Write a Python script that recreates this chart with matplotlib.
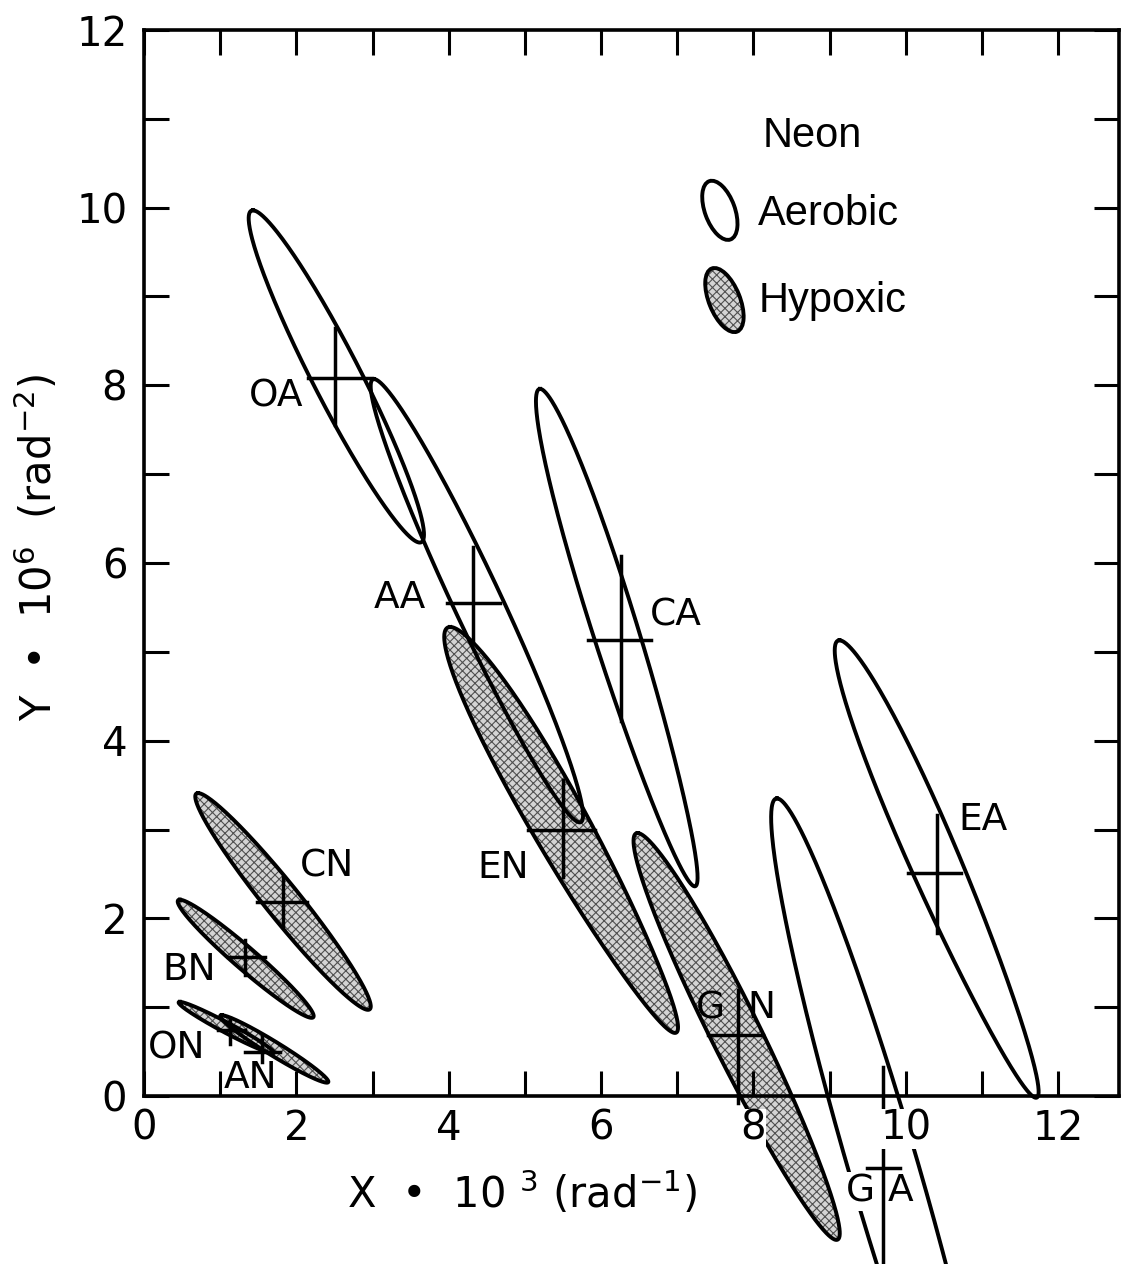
import numpy as np
import matplotlib
matplotlib.use('Agg')
import matplotlib.pyplot as plt
from matplotlib import transforms
from matplotlib.patches import Ellipse

# aerobic regions (top point, bottom point, half width at the middle, skew)
aer_names = ['OA', 'AA', 'CA', 'GA', 'EA']
aer_top_x = [1.43, 3.02, 5.20, 8.31, 9.13]
aer_top_y = [9.97, 8.07, 7.96, 3.35, 5.13]
aer_bot_x = [3.62, 5.72, 7.23, 11.11, 11.71]
aer_bot_y = [6.23, 3.08, 2.36, -4.97, -0.02]
aer_halfw = [0.354, 0.348, 0.308, 0.47, 0.354]
aer_skew = [0.0, 0.0, 0.1, 0.0, 0.15]

# hypoxic regions
hyp_names = ['ON', 'AN', 'BN', 'CN', 'EN', 'GN']
hyp_top_x = [0.47, 1.02, 0.47, 0.71, 4.02, 6.48]
hyp_top_y = [1.06, 0.91, 2.21, 3.41, 5.28, 2.96]
hyp_bot_x = [1.69, 2.40, 2.20, 2.94, 6.97, 9.09]
hyp_bot_y = [0.48, 0.15, 0.88, 0.97, 0.71, -1.62]
hyp_halfw = [0.14, 0.17, 0.22, 0.29, 0.42, 0.36]
hyp_skew = [0.0, 0.0, 0.0, 0.0, 0.17, 0.05]

# best estimates with x / y ranges (the crosses)
est_names = ['OA', 'AA', 'CA', 'EA', 'GA', 'EN', 'GN', 'CN', 'BN', 'ON', 'AN']
est_x = [2.51, 4.32, 6.26, 10.41, 9.70, 5.50, 7.80, 1.82, 1.33, 1.13, 1.55]
est_y = [8.08, 5.55, 5.13, 2.51, -0.81, 2.99, 0.69, 2.18, 1.56, 0.74, 0.50]
est_xlo = [2.15, 3.98, 5.83, 10.03, 9.49, 5.04, 7.40, 1.48, 1.10, 0.97, 1.33]
est_xhi = [2.99, 4.67, 6.65, 10.73, 9.92, 5.92, 8.12, 2.14, 1.59, 1.33, 1.78]
est_ylo = [7.55, 5.10, 4.22, 1.83, -2.2, 2.47, -0.08, 1.90, 1.36, 0.58, 0.38]
est_yhi = [8.65, 6.18, 6.08, 3.16, 0.33, 3.56, 1.19, 2.47, 1.76, 0.88, 0.69]

# label positions
lab_text = ['OA', 'AA', 'CA', 'EA', 'EN', 'CN', 'BN', 'ON', 'AN']
lab_x = [1.73, 3.36, 6.98, 11.01, 4.71, 2.40, 0.59, 0.43, 1.40]
lab_y = [7.87, 5.61, 5.41, 3.11, 2.57, 2.58, 1.42, 0.54, 0.20]


def blob(tx, ty, bx, by, hw, k, n=400):
    t = np.linspace(0, 2 * np.pi, n)
    mx, my = (tx + bx) / 2, (ty + by) / 2
    c, s = np.cos(t), np.sin(t)
    x = mx + (tx - mx) * c + hw * (1 + k * c) * s
    y = my + (ty - my) * c
    return x, y


plt.rcParams['mathtext.default'] = 'regular'
plt.rcParams['hatch.linewidth'] = 0.8

fig = plt.figure(figsize=(11.31, 12.64), dpi=100)
ax = fig.add_axes([144 / 1131, 1 - 1096 / 1264, 975 / 1131, 1066 / 1264])
ax.set_xlim(0, 12.8)
ax.set_ylim(0, 12)

lw = 2.8
for i in range(len(hyp_names)):
    x, y = blob(hyp_top_x[i], hyp_top_y[i], hyp_bot_x[i], hyp_bot_y[i], hyp_halfw[i], hyp_skew[i])
    ax.fill(x, y, fc='#d4d4d4', ec='#505050', hatch='xxxx', lw=0, zorder=2, clip_on=False)
    ax.plot(x, y, color='black', lw=lw, zorder=3, clip_on=False)

for i in range(len(aer_names)):
    x, y = blob(aer_top_x[i], aer_top_y[i], aer_bot_x[i], aer_bot_y[i], aer_halfw[i], aer_skew[i])
    ax.plot(x, y, color='black', lw=lw, zorder=3, clip_on=False)

for i in range(len(est_names)):
    ax.plot([est_xlo[i], est_xhi[i]], [est_y[i], est_y[i]], color='black', lw=2.5, zorder=4, clip_on=False)
    ax.plot([est_x[i], est_x[i]], [est_ylo[i], est_yhi[i]], color='black', lw=2.5, zorder=4, clip_on=False)

lab_font = dict(fontsize=27, family='DejaVu Sans', ha='center', va='center', zorder=6)
for t, x, y in zip(lab_text, lab_x, lab_y):
    ax.text(x, y, t, **lab_font)
# split labels with the cross running between the letters
for t, x in zip(['G', 'N'], [7.43, 8.11]):
    ax.text(x, 0.99, t, clip_on=False, **lab_font)
for t, x in zip(['G', 'A'], [9.41, 9.93]):
    ax.text(x, -1.07, t, clip_on=False,
            bbox=dict(fc='white', ec='none', pad=1), **lab_font)

# legend
ax.text(8.77, 10.68, 'Neon', fontsize=30, family='Liberation Sans', ha='center', va='baseline')
ax.text(8.06, 9.81, 'Aerobic', fontsize=30, family='Liberation Sans', ha='left', va='baseline')
ax.text(8.07, 8.83, 'Hypoxic', fontsize=30, family='Liberation Sans', ha='left', va='baseline')
tr1 = fig.dpi_scale_trans + transforms.ScaledTranslation(7.56, 9.97, ax.transData)
ax.add_patch(Ellipse((0, 0), 0.30, 0.62, angle=20, transform=tr1, fc='none', ec='black', lw=lw))
tr2 = fig.dpi_scale_trans + transforms.ScaledTranslation(7.62, 8.96, ax.transData)
ax.add_patch(Ellipse((0, 0), 0.31, 0.68, angle=22, transform=tr2, fc='#d4d4d4', ec='#505050',
                     hatch='xxxx', lw=0))
ax.add_patch(Ellipse((0, 0), 0.31, 0.68, angle=22, transform=tr2, fc='none', ec='black', lw=lw))

# axes styling
ax.set_xticks(range(0, 13))
ax.set_xticklabels([str(v) if v % 2 == 0 else '' for v in range(0, 13)])
ax.set_yticks(range(0, 13))
ax.set_yticklabels([str(v) if v % 2 == 0 else '' for v in range(0, 13)])
ax.tick_params(direction='in', length=18, width=2.2, top=True, right=True,
               labelsize=29, pad=12)
ax.tick_params(axis='x', pad=9)
for lab in ax.get_xticklabels():
    lab.set_bbox(dict(fc='white', ec='none', pad=0))
ax.xaxis.set_zorder(5)
for sp in ax.spines.values():
    sp.set_linewidth(2.6)

fig.text(522 / 1131, 1 - 1193 / 1264, 'X  •  10 $^3$ (rad$^{-1}$)', fontsize=30,
         ha='center', va='center')
fig.text(37 / 1131, 1 - 547 / 1264, 'Y  •  10$^6$  (rad$^{-2}$)', fontsize=30,
         ha='center', va='center', rotation=90)

fig.savefig('out.png', dpi=100)
